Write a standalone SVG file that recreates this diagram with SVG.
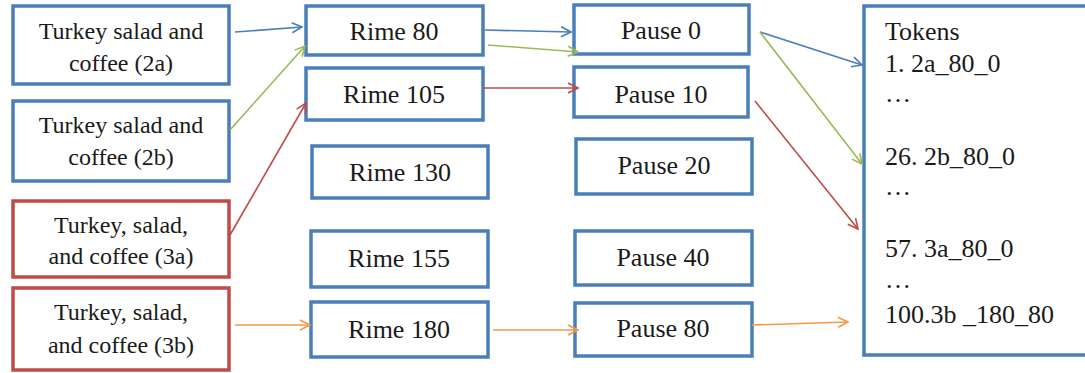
<svg xmlns="http://www.w3.org/2000/svg" width="1085" height="373" viewBox="0 0 1085 373" font-family="Liberation Serif, Times New Roman, DejaVu Serif, serif">
<style>
.box{fill:#fff;stroke-width:3.5}
.b{stroke:#4a7ebb}
.r{stroke:#be4b48}
text{font-size:24px;fill:#1a1a1a}
.k{font-size:26px}
.c{text-anchor:middle}
.ln{fill:none;stroke-width:1.6}
</style>
<defs>
<marker id="mb" viewBox="0 0 12 12" refX="11" refY="6" markerWidth="12" markerHeight="12" markerUnits="userSpaceOnUse" orient="auto"><path d="M1,1 L11,6 L1,11" fill="none" stroke="#4a7ebb" stroke-width="1.6"/></marker>
<marker id="mg" viewBox="0 0 12 12" refX="11" refY="6" markerWidth="12" markerHeight="12" markerUnits="userSpaceOnUse" orient="auto"><path d="M1,1 L11,6 L1,11" fill="none" stroke="#98b954" stroke-width="1.6"/></marker>
<marker id="mr" viewBox="0 0 12 12" refX="11" refY="6" markerWidth="12" markerHeight="12" markerUnits="userSpaceOnUse" orient="auto"><path d="M1,1 L11,6 L1,11" fill="none" stroke="#be4b48" stroke-width="1.6"/></marker>
<marker id="mo" viewBox="0 0 12 12" refX="11" refY="6" markerWidth="12" markerHeight="12" markerUnits="userSpaceOnUse" orient="auto"><path d="M1,1 L11,6 L1,11" fill="none" stroke="#f39a4a" stroke-width="1.6"/></marker>
</defs>
<rect width="1085" height="373" fill="#fff"/>
<g id="n2a"><rect class="box b" x="13" y="6" width="216" height="78"/><text class="c" x="121" y="39">Turkey salad and</text><text class="c" x="121" y="71">coffee (2a)</text></g>
<g id="n2b"><rect class="box b" x="13" y="101" width="216" height="80"/><text class="c" x="121" y="133">Turkey salad and</text><text class="c" x="121" y="165">coffee (2b)</text></g>
<g id="n3a"><rect class="box r" x="13" y="201" width="216" height="76"/><text class="c" x="121" y="233">Turkey, salad,</text><text class="c" x="121" y="264">and coffee (3a)</text></g>
<g id="n3b"><rect class="box r" x="13" y="288" width="216" height="82"/><text class="c" x="121" y="320">Turkey, salad,</text><text class="c" x="121" y="353">and coffee (3b)</text></g>
<g id="rime80"><rect class="box b" x="306" y="6" width="177" height="49"/><text class="c k" x="394" y="40">Rime 80</text></g>
<g id="rime105"><rect class="box b" x="306" y="68" width="177" height="52"/><text class="c k" x="394" y="103">Rime 105</text></g>
<g id="rime130"><rect class="box b" x="312" y="146" width="176" height="52"/><text class="c k" x="400" y="181">Rime 130</text></g>
<g id="rime155"><rect class="box b" x="311" y="231" width="177" height="56"/><text class="c k" x="399" y="267">Rime 155</text></g>
<g id="rime180"><rect class="box b" x="311" y="302" width="177" height="55"/><text class="c k" x="399" y="338">Rime 180</text></g>
<g id="pause0"><rect class="box b" x="574" y="5" width="175" height="49"/><text class="c k" x="661" y="39">Pause 0</text></g>
<g id="pause10"><rect class="box b" x="574" y="67" width="174" height="50"/><text class="c k" x="661" y="103">Pause 10</text></g>
<g id="pause20"><rect class="box b" x="576" y="139" width="176" height="55"/><text class="c k" x="664" y="174">Pause 20</text></g>
<g id="pause40"><rect class="box b" x="575" y="231" width="177" height="54"/><text class="c k" x="663" y="266">Pause 40</text></g>
<g id="pause80"><rect class="box b" x="575" y="303" width="177" height="53"/><text class="c k" x="663" y="337">Pause 80</text></g>
<g id="tokens"><rect class="box b" x="864" y="6" width="240" height="349"/>
<text class="k" x="885" y="40">Tokens</text>
<text class="k" x="885" y="72">1. 2a_80_0</text>
<text class="k" x="885" y="102">…</text>
<text class="k" x="885" y="165">26. 2b_80_0</text>
<text class="k" x="885" y="195">…</text>
<text class="k" x="885" y="257">57. 3a_80_0</text>
<text class="k" x="885" y="288">…</text>
<text class="k" x="885" y="323">100.3b _180_80</text>
</g>
<g id="connectors">
<line class="ln" stroke="#4a7ebb" x1="235" y1="32" x2="302" y2="27" marker-end="url(#mb)"/>
<line class="ln" stroke="#98b954" x1="230" y1="130" x2="305" y2="46" marker-end="url(#mg)"/>
<line class="ln" stroke="#be4b48" x1="230" y1="235" x2="306" y2="103" marker-end="url(#mr)"/>
<line class="ln" stroke="#f39a4a" x1="235" y1="325" x2="310" y2="325" marker-end="url(#mo)"/>
<line class="ln" stroke="#4a7ebb" x1="485" y1="30" x2="571" y2="32" marker-end="url(#mb)"/>
<line class="ln" stroke="#98b954" x1="488" y1="45" x2="578" y2="52" marker-end="url(#mg)"/>
<line class="ln" stroke="#be4b48" x1="483" y1="88" x2="578" y2="88" marker-end="url(#mr)"/>
<line class="ln" stroke="#f39a4a" x1="493" y1="330" x2="578" y2="330" marker-end="url(#mo)"/>
<line class="ln" stroke="#4a7ebb" x1="760" y1="32" x2="862" y2="65" marker-end="url(#mb)"/>
<line class="ln" stroke="#98b954" x1="760" y1="32" x2="862" y2="164" marker-end="url(#mg)"/>
<line class="ln" stroke="#be4b48" x1="755" y1="101" x2="858" y2="229" marker-end="url(#mr)"/>
<line class="ln" stroke="#f39a4a" x1="752" y1="325" x2="848" y2="322" marker-end="url(#mo)"/>
</g>
</svg>
